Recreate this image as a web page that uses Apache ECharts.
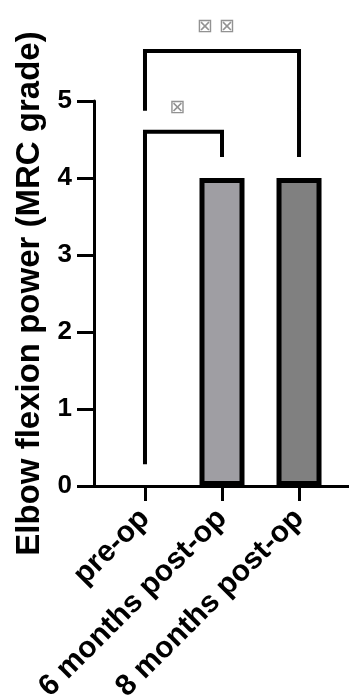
<!DOCTYPE html>
<html><head><meta charset="utf-8">
<script src="https://cdn.jsdelivr.net/npm/echarts@6/dist/echarts.min.js"></script>
<style>html,body{margin:0;padding:0;background:#fff}#c{width:349px;height:698px}</style>
</head><body><div id="c"></div>
<script>
const categories = ['pre-op', '6 months post-op', '8 months post-op'];
const values = [0, 4, 4];
const barColors = ['#ffffff', '#9f9ea3', '#808080'];
const yTicks = [0, 1, 2, 3, 4, 5];
const yTitle = 'Elbow flexion power (MRC grade)';
// significance brackets: [from index, to index, bracket height, left leg bottom, right leg bottom, label]
const bracketFrom = [0, 0];
const bracketTo = [1, 2];
const bracketTop = [4.6, 5.65];
const bracketLeftEnd = [0.31, 4.9];
const bracketRightEnd = [4.3, 4.3];
const bracketLabels = ['⊠', '⊠ ⊠'];

const font = '"Liberation Sans", Arial, Helvetica, sans-serif';
const chart = echarts.init(document.getElementById('c'), null, {renderer: 'canvas'});

const series = [{
  type: 'bar',
  barWidth: 45,
  data: values.map((v, i) => ({
    value: [i, v],
    itemStyle: {color: barColors[i], borderColor: '#000', borderWidth: v === 0 ? 0 : 5}
  })),
  z: 2
}];
bracketFrom.forEach((f, k) => {
  const t = bracketTo[k];
  series.push({
    type: 'line', clip: false, symbol: 'none', silent: true, z: 5,
    lineStyle: {color: '#000', width: 4, cap: 'square', join: 'miter'},
    data: [[f, bracketLeftEnd[k]], [f, bracketTop[k]], [t, bracketTop[k]], [t, bracketRightEnd[k]]]
  });
  series.push({
    type: 'scatter', clip: false, symbolSize: 0, silent: true, z: 6,
    data: [[(f + t) / 2, bracketTop[k]]],
    label: {show: true, position: 'top', distance: 14, offset: [-6, 0], formatter: bracketLabels[k],
      fontFamily: '"DejaVu Sans", sans-serif', fontSize: 19, color: '#777'}
  });
});

chart.setOption({
  animation: false,
  grid: {left: 94, right: 0, top: 101, bottom: 212, containLabel: false, outerBoundsMode: 'none'},
  xAxis: {
    type: 'value', min: -0.662, max: 2.649,
    splitLine: {show: false},
    axisLine: {show: true, onZero: false, lineStyle: {color: '#000', width: 3}},
    axisTick: {show: true, customValues: [0, 1, 2], length: 15, lineStyle: {color: '#000', width: 3}},
    axisLabel: {show: true, customValues: [0, 1, 2], rotate: 45, margin: 28,
      formatter: v => categories[Math.round(v)] || '',
      fontFamily: font, fontWeight: 'bold', fontSize: 30, color: '#000'}
  },
  yAxis: {
    type: 'value', min: 0, max: 5, interval: 1,
    splitLine: {show: false},
    axisLine: {show: true, onZero: false, lineStyle: {color: '#000', width: 3}},
    axisTick: {show: true, length: 17, lineStyle: {color: '#000', width: 3}},
    axisLabel: {margin: 22, fontFamily: font, fontWeight: 'bold', fontSize: 26, color: '#000',
      formatter: v => yTicks.includes(v) ? String(v) : ''},
    name: yTitle, nameLocation: 'middle', nameGap: 48,
    nameTextStyle: {fontFamily: font, fontWeight: 'bold', fontSize: 33, color: '#000'}
  },
  series: series
});
</script></body></html>
